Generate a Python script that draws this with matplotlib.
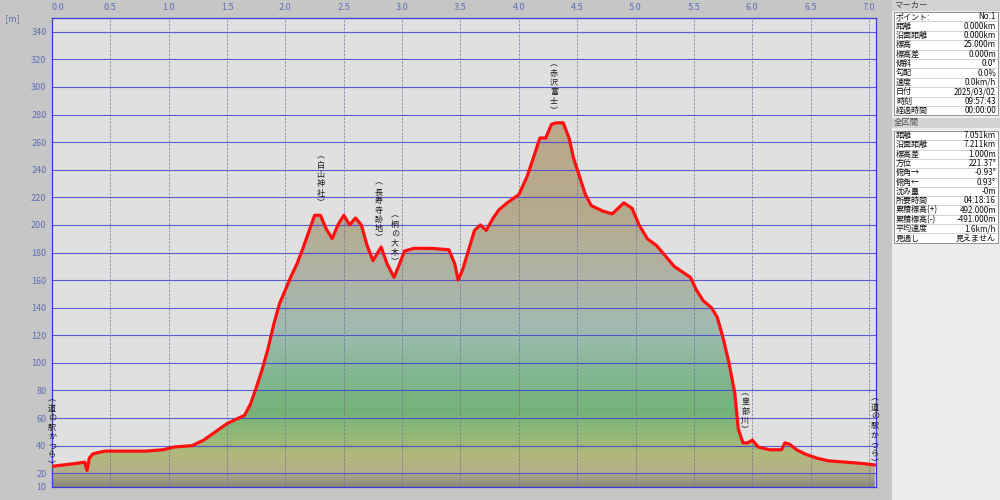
import numpy as np
import matplotlib.pyplot as plt
from matplotlib.colors import LinearSegmentedColormap
from matplotlib.patches import Rectangle

plt.rcParams['font.family'] = ['Noto Sans CJK JP', 'DejaVu Sans']

# elevation profile (km, m)
dist = [0.00, 0.10, 0.20, 0.28, 0.30, 0.32, 0.35, 0.45, 0.60, 0.80, 0.95, 1.05, 1.20,
        1.30, 1.40, 1.50, 1.60, 1.65, 1.70, 1.75, 1.80, 1.85, 1.90, 1.95, 2.00, 2.05,
        2.10, 2.15, 2.20, 2.25, 2.30, 2.35, 2.40, 2.45, 2.50, 2.55, 2.60, 2.65, 2.70,
        2.75, 2.82, 2.87, 2.93, 2.97, 3.02, 3.10, 3.25, 3.40, 3.45, 3.48, 3.52, 3.57,
        3.62, 3.67, 3.72, 3.78, 3.83, 3.90, 4.00, 4.07, 4.13, 4.18, 4.23, 4.28, 4.32,
        4.38, 4.43, 4.47, 4.52, 4.57, 4.62, 4.72, 4.80, 4.85, 4.90, 4.97, 5.03, 5.10,
        5.18, 5.25, 5.33, 5.40, 5.47, 5.52, 5.58, 5.65, 5.70, 5.75, 5.80, 5.85, 5.88,
        5.92, 5.96, 6.00, 6.05, 6.15, 6.25, 6.28, 6.32, 6.38, 6.45, 6.55, 6.65, 6.80,
        6.95, 7.05]
elev = [25, 26, 27, 28, 22, 31, 34, 36, 36, 36, 37, 39, 40,
        44, 50, 56, 60, 62, 70, 82, 95, 110, 128, 143, 153, 163,
        172, 183, 195, 207, 207, 197, 190, 200, 207, 200, 205, 200, 185,
        174, 184, 172, 162, 170, 181, 183, 183, 182, 172, 160, 168, 182,
        196, 200, 196, 205, 211, 216, 222, 235, 250, 263, 263, 273, 274,
        274, 263, 248, 235, 222, 214, 210, 208, 212, 216, 212, 200, 190,
        185, 178, 170, 166, 162, 153, 145, 140, 133, 118, 100, 78, 52,
        42, 42, 44, 39, 37, 37, 42, 41, 37, 34, 31, 29, 28,
        27, 26]

# waypoint labels
mark_dist = [0.00, 2.30, 2.80, 2.94, 4.30, 5.94, 7.05]
mark_name = ['道の駅かつら', '白山神社', '長寿寺跡地', '桐の大木', '赤沢富士', '皇部川', '道の駅かつら']

yticks = [10] + list(range(20, 341, 20))
xticks = np.arange(0, 7.01, 0.5)

panel1_keys = ['ポイント:', '距離', '沿面距離', '標高', '標高差', '傾斜', '勾配', '速度', '日付', '時刻', '経過時間']
panel1_vals = ['No.1', '0.000km', '0.000km', '25.000m', '0.000m', '0.0°', '0.0%', '0.0km/h',
               '2025/03/02', '09:57:43', '00:00:00']
panel2_keys = ['距離', '沿面距離', '標高差', '方位', '俯角→', '俯角←', '沈み量', '所要時間',
               '累積標高(+)', '累積標高(-)', '平均速度', '見通し']
panel2_vals = ['7.051km', '7.211km', '1.000m', '221.37°', '-0.93°', '0.93°', '-0m', '04:18:16',
               '492.000m', '-491.000m', '1.6km/h', '見えません']

# colours by elevation for the fill
grad = LinearSegmentedColormap.from_list('elev', [
    (0.00, '#8a8a7e'), (10 / 280, '#b4ae8c'), (22 / 280, '#b2b87c'), (35 / 280, '#96ba7a'),
    (55 / 280, '#74b278'), (85 / 280, '#86b894'), (115 / 280, '#a0bab2'),
    (150 / 280, '#aeb4a6'), (200 / 280, '#b6aa8c'), (1.0, '#bca888')])

tick_col = '#5f6fb5'
fig = plt.figure(figsize=(10, 5), dpi=100, facecolor='#c6c6c6')
ax = fig.add_axes([0.052, 0.026, 0.824, 0.938])
ax.set_facecolor('#e0e0e0')
ax.set_xlim(0, 7.06)
ax.set_ylim(10, 350)

# gradient fill clipped by the profile
poly = ax.fill_between(dist, elev, 10, facecolor='none', edgecolor='none')
img = ax.imshow(np.linspace(10, 350, 300).reshape(-1, 1), cmap=grad, vmin=10, vmax=290,
                extent=[0, 7.06, 10, 350], origin='lower', aspect='auto', zorder=1)
img.set_clip_path(poly.get_paths()[0], transform=ax.transData)

for y in yticks[1:]:
    ax.axhline(y, color='#3a3ad6', lw=0.8, alpha=0.8, zorder=2)
for x in xticks[1:]:
    ax.axvline(x, color='#6c6c96', lw=0.6, ls=(0, (3, 1.5)), alpha=0.75, zorder=2)

ax.plot(dist, elev, color='#ff1010', lw=2.3, zorder=3, solid_joinstyle='round')

for d, name in zip(mark_dist, mark_name):
    e = np.interp(d, dist, elev)
    txt = '\n'.join('︵' + name + '︶')
    off = -2 if d in (0.0, 7.05) else 6
    ax.annotate(txt, (d, e), xytext=(0, off), textcoords='offset points', ha='center',
                va='bottom', fontsize=5.8, linespacing=1.05, color='#1a1a1a', zorder=4)

for s in ax.spines.values():
    s.set_color('#3a3ad6')
    s.set_linewidth(0.9)
ax.xaxis.tick_top()
ax.set_xticks(xticks)
ax.set_xticklabels(['%.1f' % v for v in xticks])
ax.set_yticks(yticks)
ax.tick_params(axis='both', length=0, colors=tick_col, labelsize=6.5, pad=4)
ax.get_xticklabels()[0].set_ha('left')
fig.text(0.005, 0.962, '[m]', fontsize=6.5, color=tick_col, va='center')

# side panel
pan = fig.add_axes([0.892, 0, 0.108, 1])
pan.set_xlim(0, 108)
pan.set_ylim(500, 0)
pan.axis('off')
pan.add_patch(Rectangle((0, 0), 108, 500, facecolor='#ececec', edgecolor='none'))
pan.add_patch(Rectangle((0, 0), 108, 11, facecolor='#d2d2d2', edgecolor='none'))
pan.text(2, 5.5, 'マーカー', fontsize=6, color='#404040', va='center')
pan.add_patch(Rectangle((0, 118), 108, 10, facecolor='#d2d2d2', edgecolor='none'))
pan.text(2, 123, '全区間', fontsize=6, color='#505050', va='center')

def table(keys, vals, top, h):
    pan.add_patch(Rectangle((2, top), 104, h * len(keys), facecolor='#ffffff',
                            edgecolor='#808080', lw=0.6))
    for i, (k, v) in enumerate(zip(keys, vals)):
        yc = top + h * (i + 0.5)
        pan.text(4, yc, k, fontsize=5.8, color='#101010', va='center')
        pan.text(104, yc, v, fontsize=5.8, color='#101010', va='center', ha='right')
        if i:
            pan.plot([2, 106], [top + h * i] * 2, color='#c0c0c0', lw=0.5)

table(panel1_keys, panel1_vals, 12, 9.4)
table(panel2_keys, panel2_vals, 131, 9.3)

fig.savefig('out.png', dpi=100, facecolor=fig.get_facecolor())
